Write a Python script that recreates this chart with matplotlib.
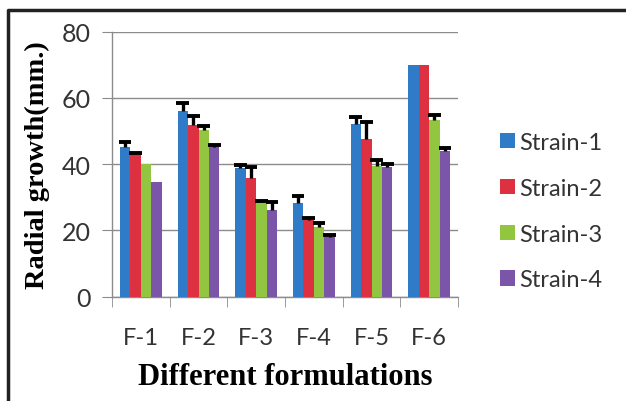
import matplotlib
matplotlib.use("Agg")
import matplotlib.pyplot as plt
import numpy as np
from matplotlib.lines import Line2D

categories = ["F-1", "F-2", "F-3", "F-4", "F-5", "F-6"]
strains = ["Strain-1", "Strain-2", "Strain-3", "Strain-4"]
strain1 = [45.1, 56.2, 38.8, 28.3, 52.1, 70.0]
strain2 = [43.2, 51.8, 35.7, 23.2, 47.6, 70.0]
strain3 = [40.0, 50.3, 28.5, 21.1, 39.6, 53.4]
strain4 = [34.5, 45.1, 26.1, 17.9, 39.1, 44.1]
err1 = [1.5, 2.3, 1.1, 2.0, 2.2, 0.0]
err2 = [0.3, 2.8, 3.4, 0.5, 5.0, 0.0]
err3 = [0.0, 1.3, 0.3, 1.1, 1.7, 1.5]
err4 = [0.0, 0.8, 2.4, 0.8, 1.0, 0.7]
colors = ["#2F7BC8", "#DD3040", "#92C640", "#7A55A8"]

values = [strain1, strain2, strain3, strain4]
errors = [err1, err2, err3, err4]

W, H = 626, 402
fig = plt.figure(figsize=(W / 100, H / 100), dpi=100)
ax = fig.add_axes([112 / W, 1 - 297.7 / H, (458 - 112) / W, 265 / H])

x = np.arange(len(categories))
w = 0.182
cap = 0.11
for i, (vals, errs, c, lab) in enumerate(zip(values, errors, colors, strains)):
    pos = x + (i - 1.5) * w
    vals = np.array(vals)
    errs = np.array(errs)
    ax.bar(pos, vals, width=w, color=c, label=lab, zorder=3)
    m = errs > 0
    top = vals + errs
    ax.vlines(pos[m], vals[m], top[m], color="black", linewidth=2.4, zorder=4)
    ax.hlines(top[m], pos[m] - cap, pos[m] + cap, color="black", linewidth=2.8, zorder=4)

ax.set_xlim(-0.5, len(categories) - 0.5)
ax.set_ylim(0, 80)
ax.set_yticks([0, 20, 40, 60, 80])
ax.yaxis.grid(True, color="#8c8c8c", linewidth=1.0, zorder=0)
for s in ["top", "right"]:
    ax.spines[s].set_visible(False)
for s in ["left", "bottom"]:
    ax.spines[s].set_color("#8c8c8c")
    ax.spines[s].set_linewidth(1.0)

ax.set_xticks(x)
ax.set_xticklabels(categories, fontfamily="Lato", fontsize=17, color="#333333")
ax.set_xticks(np.arange(-0.5, len(categories), 1.0), minor=True)
ax.tick_params(axis="x", which="major", length=0, pad=22)
ax.tick_params(axis="x", which="minor", length=7, color="#8c8c8c", direction="out")
ax.tick_params(axis="y", length=7, color="#8c8c8c", direction="out", pad=8)
for t in ax.get_yticklabels():
    t.set_fontfamily("Lato")
    t.set_fontsize(18)
    t.set_color("#333333")

ax.set_ylabel("Radial growth(mm.)", fontfamily="Liberation Serif",
              fontweight="bold", fontsize=20.5, labelpad=9)
ax.set_xlabel("Different formulations", fontfamily="Liberation Serif",
              fontweight="bold", fontsize=22, labelpad=10)

leg = fig.legend(loc="upper left", bbox_to_anchor=(500 / W, 1 - 133 / H),
                 frameon=False, prop={"family": "Lato", "size": 17},
                 handlelength=0.62, handleheight=0.62, handletextpad=0.2,
                 labelspacing=1.05, borderaxespad=0, borderpad=0)
for t in leg.get_texts():
    t.set_color("#333333")

# outer frame
fig.add_artist(Line2D([8 / W, 8 / W, 1.0], [0.0, 1 - 11 / H, 1 - 11 / H],
                      transform=fig.transFigure, color="#222222", linewidth=2.5))

fig.savefig("out.png", dpi=100)
